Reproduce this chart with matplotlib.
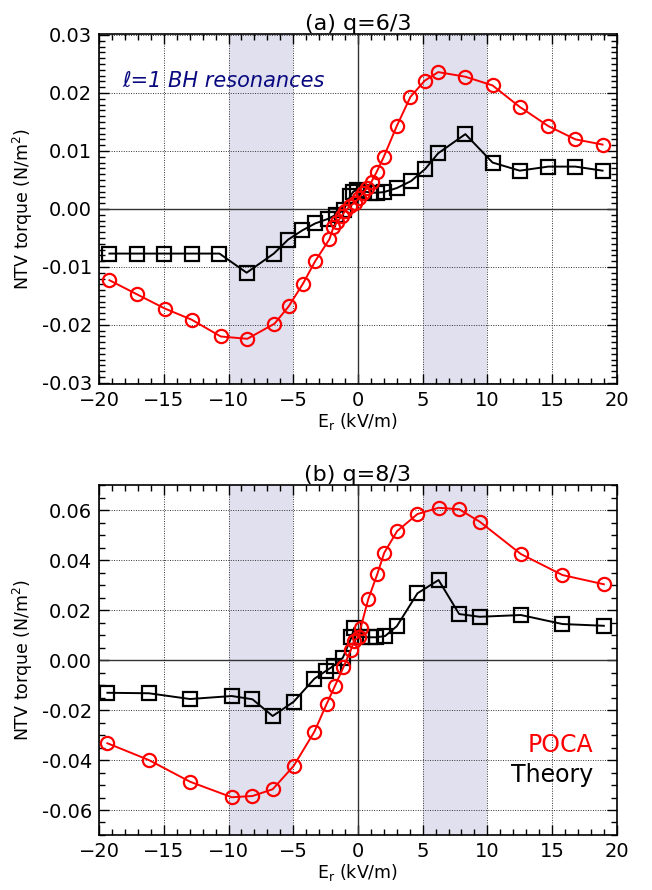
import matplotlib
matplotlib.use("Agg")
import matplotlib.pyplot as plt
from matplotlib.ticker import MultipleLocator, FormatStrFormatter

# ── data: panel (a) q=6/3 ───────────────────────────────────────────────────
er_a_theory = [-19.2, -17.1, -15.0, -12.85, -10.7, -8.6, -6.5, -5.4, -4.3, -3.3,
               -2.3, -1.7, -1.1, -0.6, -0.35, -0.05, 0.5, 1.0, 1.5, 2.0, 3.0,
               4.1, 5.2, 6.2, 8.3, 10.4, 12.5, 14.7, 16.8, 18.9]
tq_a_theory = [-0.0077, -0.0077, -0.0077, -0.0077, -0.0077, -0.0110, -0.0077,
               -0.0053, -0.0037, -0.0025, -0.0017, -0.0010, -0.0002, 0.0022,
               0.0030, 0.0033, 0.0030, 0.0028, 0.0028, 0.0029, 0.0036, 0.0048,
               0.0069, 0.0096, 0.0129, 0.0080, 0.0066, 0.0073, 0.0073, 0.0066]

er_a_poca = [-19.2, -17.1, -14.9, -12.85, -10.6, -8.55, -6.45, -5.35, -4.25,
             -3.3, -2.2, -1.9, -1.6, -1.25, -1.0, -0.6, -0.25, 0.1, 0.4, 0.7,
             1.05, 1.45, 2.0, 3.0, 4.05, 5.15, 6.2, 8.3, 10.4, 12.5, 14.7,
             16.8, 18.9]
tq_a_poca = [-0.0123, -0.0147, -0.0172, -0.0191, -0.0220, -0.0224, -0.0198,
             -0.0168, -0.0129, -0.0090, -0.0052, -0.0032, -0.0023, -0.0012,
             -0.0004, 0.0005, 0.0011, 0.0019, 0.0028, 0.0036, 0.0047, 0.0064,
             0.0090, 0.0143, 0.0193, 0.0221, 0.0236, 0.0228, 0.0213, 0.0176,
             0.0143, 0.0120, 0.0111]

# ── data: panel (b) q=8/3 ───────────────────────────────────────────────────
er_b_theory = [-19.36, -16.16, -12.97, -9.75, -8.15, -6.59, -4.97, -3.37, -2.45,
               -1.85, -1.17, -0.5, -0.3, 0.3, 0.9, 1.4, 2.1, 3.0, 4.6, 6.23,
               7.82, 9.42, 12.59, 15.8, 19.0]
tq_b_theory = [-0.0131, -0.0133, -0.0156, -0.0144, -0.0157, -0.0224, -0.0167,
               -0.0075, -0.0043, -0.0022, 0.0009, 0.0091, 0.0128, 0.0092,
               0.0091, 0.0091, 0.0096, 0.0135, 0.0267, 0.0320, 0.0184, 0.0173,
               0.0180, 0.0144, 0.0137]

er_b_poca = [-19.36, -16.16, -12.97, -9.75, -8.15, -6.59, -4.97, -3.37, -2.42,
             -1.78, -1.13, -0.55, -0.3, 0.05, 0.2, 0.8, 1.49, 2.03, 3.03, 4.6,
             6.23, 7.82, 9.42, 12.59, 15.8, 19.0]
tq_b_poca = [-0.0333, -0.0400, -0.0487, -0.0549, -0.0544, -0.0517, -0.0424,
             -0.0287, -0.0176, -0.0104, -0.0029, 0.0040, 0.0078, 0.0091,
             0.0127, 0.0244, 0.0343, 0.0429, 0.0516, 0.0584, 0.0609, 0.0603,
             0.0553, 0.0424, 0.0340, 0.0303]

resonance_bands = [(-10, -5), (5, 10)]

RED = "#ff0000"
SHADE = "#e0e0ee"
FS = 14


def style_axis(ax, ylim, ymajor, yminor):
    ax.set_xlim(-20, 20)
    ax.set_ylim(*ylim)
    ax.xaxis.set_major_locator(MultipleLocator(5))
    ax.xaxis.set_minor_locator(MultipleLocator(1))
    ax.yaxis.set_major_locator(MultipleLocator(ymajor))
    ax.yaxis.set_minor_locator(MultipleLocator(yminor))
    ax.yaxis.set_major_formatter(FormatStrFormatter("%.2f"))
    ax.tick_params(which="both", direction="in", top=True, right=True,
                   labelsize=FS, pad=5)
    ax.tick_params(which="major", length=7, width=1)
    ax.tick_params(which="minor", length=4, width=1)
    for s in ax.spines.values():
        s.set_linewidth(1.2)
    ax.grid(True, which="major", linestyle=(0, (1, 1.5)), color="#333333",
            linewidth=0.7)
    ax.set_axisbelow(True)
    for lo, hi in resonance_bands:
        ax.axvspan(lo, hi, color=SHADE, zorder=0, lw=0)
    ax.axhline(0, color="#333333", lw=1, zorder=1)
    ax.axvline(0, color="#333333", lw=1, zorder=1)
    ax.set_xlabel("E$_\\mathregular{r}$ (kV/m)", fontsize=12.5, labelpad=1)
    ax.set_ylabel("NTV torque (N/m$^\\mathregular{2}$)", fontsize=12.5,
                  labelpad=5)


def plot_series(ax, x, y, color, marker):
    ax.plot(x, y, "-", color=color, lw=1.4, marker=marker, markersize=9.5,
            markerfacecolor="none", markeredgecolor=color, markeredgewidth=1.6,
            zorder=3)


fig = plt.figure(figsize=(6.52, 8.90), dpi=100)
ax1 = fig.add_axes([0.152, 0.5685, 0.794, 0.3935])
ax2 = fig.add_axes([0.152, 0.0618, 0.794, 0.3932])

# panel (a)
style_axis(ax1, (-0.0302, 0.0302), 0.01, 0.001)
plot_series(ax1, er_a_theory, tq_a_theory, "black", "s")
plot_series(ax1, er_a_poca, tq_a_poca, RED, "o")
ax1.set_title("(a) q=6/3", fontsize=16, pad=3)
ax1.text(-18.2, 0.0221, "\u2113=1 BH resonances", color="#0a0a80",
         style="italic", fontsize=15, va="center", ha="left")

# panel (b)
style_axis(ax2, (-0.07, 0.07), 0.02, 0.005)
plot_series(ax2, er_b_theory, tq_b_theory, "black", "s")
plot_series(ax2, er_b_poca, tq_b_poca, RED, "o")
ax2.set_title("(b) q=8/3", fontsize=16, pad=3)
ax2.text(0.954, 0.257, "POCA", color=RED, fontsize=17,
         transform=ax2.transAxes, ha="right", va="center")
ax2.text(0.954, 0.171, "Theory", color="black", fontsize=17,
         transform=ax2.transAxes, ha="right", va="center")

fig.savefig("out.png", dpi=100)
plt.close(fig)
